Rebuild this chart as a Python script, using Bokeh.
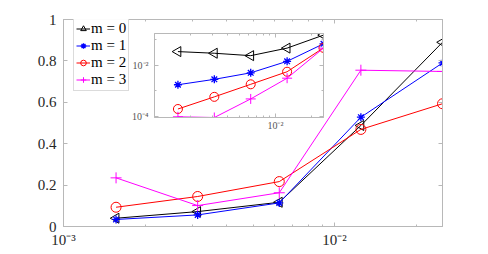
import numpy as np
from bokeh.plotting import figure
from bokeh.layouts import column
from bokeh.models import FixedTicker, LogAxis, LinearAxis, Range1d, Legend, LegendItem
from bokeh.embed import file_html
from bokeh.resources import INLINE

# ---------------- data ----------------
h = [0.0015625, 0.003125, 0.00625, 0.0125, 0.025]
err_m0 = [0.040, 0.072, 0.117, 0.488, 0.890]
err_m1 = [0.034, 0.056, 0.114, 0.528, 0.790]
err_m2 = [0.093, 0.145, 0.217, 0.469, 0.593]
err_m3 = [0.235, 0.101, 0.163, 0.755, 0.749]

ins_m0 = [0.033, 0.0285, 0.023, 0.045, 0.143]
ins_m1 = [0.00173, 0.0028, 0.0050, 0.0139, 0.066]
ins_m2 = [0.00020, 0.00059, 0.0018, 0.0055, 0.046]
ins_m3 = [0.00010, 0.000094, 0.00049, 0.0031, 0.045]

labels = ["m = 0", "m = 1", "m = 2", "m = 3"]
colors = ["#000000", "#0000ff", "#ff0000", "#ff00ff"]

FONT = "Liberation Serif"
AX = "#b8b8b8"
TXT = "#262626"

# ---------------- main figure ----------------
p = figure(x_axis_type="log", output_backend="svg", toolbar_location=None,
           frame_width=379, frame_height=207,
           min_border_left=63, min_border_right=38, min_border_top=19, min_border_bottom=22,
           x_range=Range1d(1e-3, 0.025), y_range=Range1d(0, 1))
p.grid.visible = False
p.outline_line_color = AX
p.background_fill_color = "white"

def style_axis(ax, fs="14px"):
    ax.axis_line_color = AX
    ax.major_tick_line_color = AX
    ax.minor_tick_line_color = AX
    ax.major_tick_in = 4
    ax.major_tick_out = 0
    ax.minor_tick_in = 2
    ax.minor_tick_out = 0
    ax.major_label_text_font = FONT
    ax.major_label_text_font_size = fs
    ax.major_label_text_color = TXT

style_axis(p.xaxis[0], "15px")
style_axis(p.yaxis[0], "15px")
p.xaxis[0].ticker = FixedTicker(ticks=[1e-3, 1e-2],
                                minor_ticks=[k * 1e-3 for k in range(2, 10)] + [2e-2])
p.xaxis[0].major_label_overrides = {1e-3: "10\u207b\u00b3", 1e-2: "10\u207b\u00b2"}
p.xaxis[0].major_label_standoff = 5
p.yaxis[0].ticker = FixedTicker(ticks=[0, 0.2, 0.4, 0.6, 0.8, 1.0])
p.yaxis[0].major_label_overrides = {0: "0", 1: "1"}
p.yaxis[0].minor_tick_line_color = None
p.yaxis[0].major_label_standoff = 7

top_ax = LogAxis(ticker=FixedTicker(ticks=[1e-3, 1e-2],
                                    minor_ticks=[k * 1e-3 for k in range(2, 10)] + [2e-2]))
style_axis(top_ax, "1px")
top_ax.major_label_text_color = None
top_ax.major_label_standoff = 0
p.add_layout(top_ax, "above")
right_ax = LinearAxis(ticker=FixedTicker(ticks=[0, 0.2, 0.4, 0.6, 0.8, 1.0]))
style_axis(right_ax, "1px")
right_ax.minor_tick_line_color = None
right_ax.major_label_text_color = None
right_ax.major_label_standoff = 0
p.add_layout(right_ax, "right")

items = []
series = [err_m0, err_m1, err_m2, err_m3]
for i, (ys, c) in enumerate(zip(series, colors)):
    ln = p.line(h, ys, line_color=c, line_width=1)
    if i == 0:
        mk = p.scatter(h, ys, marker="triangle", angle=np.pi / 2, size=10,
                       line_color=c, fill_color=None, line_width=1)
    elif i == 1:
        mk = p.scatter(h, ys, marker="asterisk", size=8, line_color=c, line_width=1.3)
    elif i == 2:
        mk = p.scatter(h, ys, marker="circle", size=10, line_color=c, fill_color=None, line_width=1)
    else:
        mk = p.scatter(h, ys, marker="cross", size=11, line_color=c, line_width=1)
    items.append(LegendItem(label=labels[i], renderers=[ln, mk]))

leg = Legend(items=items, location=(10, 135))
leg.label_text_font = FONT
leg.label_text_font_size = "15px"
leg.label_text_color = "#000000"
leg.glyph_width = 14
leg.glyph_height = 15
leg.label_standoff = 1
leg.spacing = 0
leg.padding = 2
leg.margin = 0
leg.border_line_color = AX
leg.label_height = 15
p.add_layout(leg)

# ---------------- inset figure ----------------
q = figure(x_axis_type="log", y_axis_type="log", output_backend="svg", toolbar_location=None,
           frame_width=169, frame_height=84,
           min_border_left=63, min_border_right=38, min_border_top=8, min_border_bottom=16,
           x_range=Range1d(1e-3, 0.025), y_range=Range1d(9.4e-5, 0.165),
           margin=(-225, 0, 0, 91))
q.grid.visible = False
q.outline_line_color = AX
q.background_fill_color = "white"
q.border_fill_color = None
style_axis(q.xaxis[0], "10px")
style_axis(q.yaxis[0], "10px")
q.xaxis[0].ticker = FixedTicker(ticks=[1e-2],
                                minor_ticks=[k * 1e-3 for k in range(2, 10)] + [2e-2])
q.xaxis[0].major_label_overrides = {1e-2: "10\u207b\u00b2"}
q.xaxis[0].major_label_standoff = 2
q.yaxis[0].ticker = FixedTicker(ticks=[1e-4, 1e-2], minor_ticks=[1e-3, 1e-1])
q.yaxis[0].major_label_overrides = {1e-4: "10\u207b\u2074", 1e-2: "10\u207b\u00b2"}
q.yaxis[0].major_label_standoff = 6
q.xaxis[0].major_label_text_color = "#555555"
q.yaxis[0].major_label_text_color = "#555555"

qt = LogAxis(ticker=FixedTicker(ticks=[1e-2],
                                minor_ticks=[k * 1e-3 for k in range(2, 10)] + [2e-2]))
style_axis(qt, "1px")
qt.major_label_text_color = None
qt.major_label_standoff = 0
q.add_layout(qt, "above")
qr = LogAxis(ticker=FixedTicker(ticks=[1e-4, 1e-2], minor_ticks=[1e-3, 1e-1]))
style_axis(qr, "1px")
qr.major_label_text_color = None
qr.major_label_standoff = 0
q.add_layout(qr, "right")

ins_series = [ins_m0, ins_m1, ins_m2, ins_m3]
for i, (ys, c) in enumerate(zip(ins_series, colors)):
    q.line(h, ys, line_color=c, line_width=1)
    if i == 0:
        q.scatter(h, ys, marker="triangle", angle=np.pi / 2, size=10,
                  line_color=c, fill_color=None, line_width=1)
    elif i == 1:
        q.scatter(h, ys, marker="asterisk", size=8, line_color=c, line_width=1.3)
    elif i == 2:
        q.scatter(h, ys, marker="circle", size=9, line_color=c, fill_color=None, line_width=1)
    else:
        q.scatter(h, ys, marker="cross", size=10, line_color=c, line_width=1)

layout = column(p, q, spacing=0)
open("out.html", "w").write(file_html(layout, INLINE))
